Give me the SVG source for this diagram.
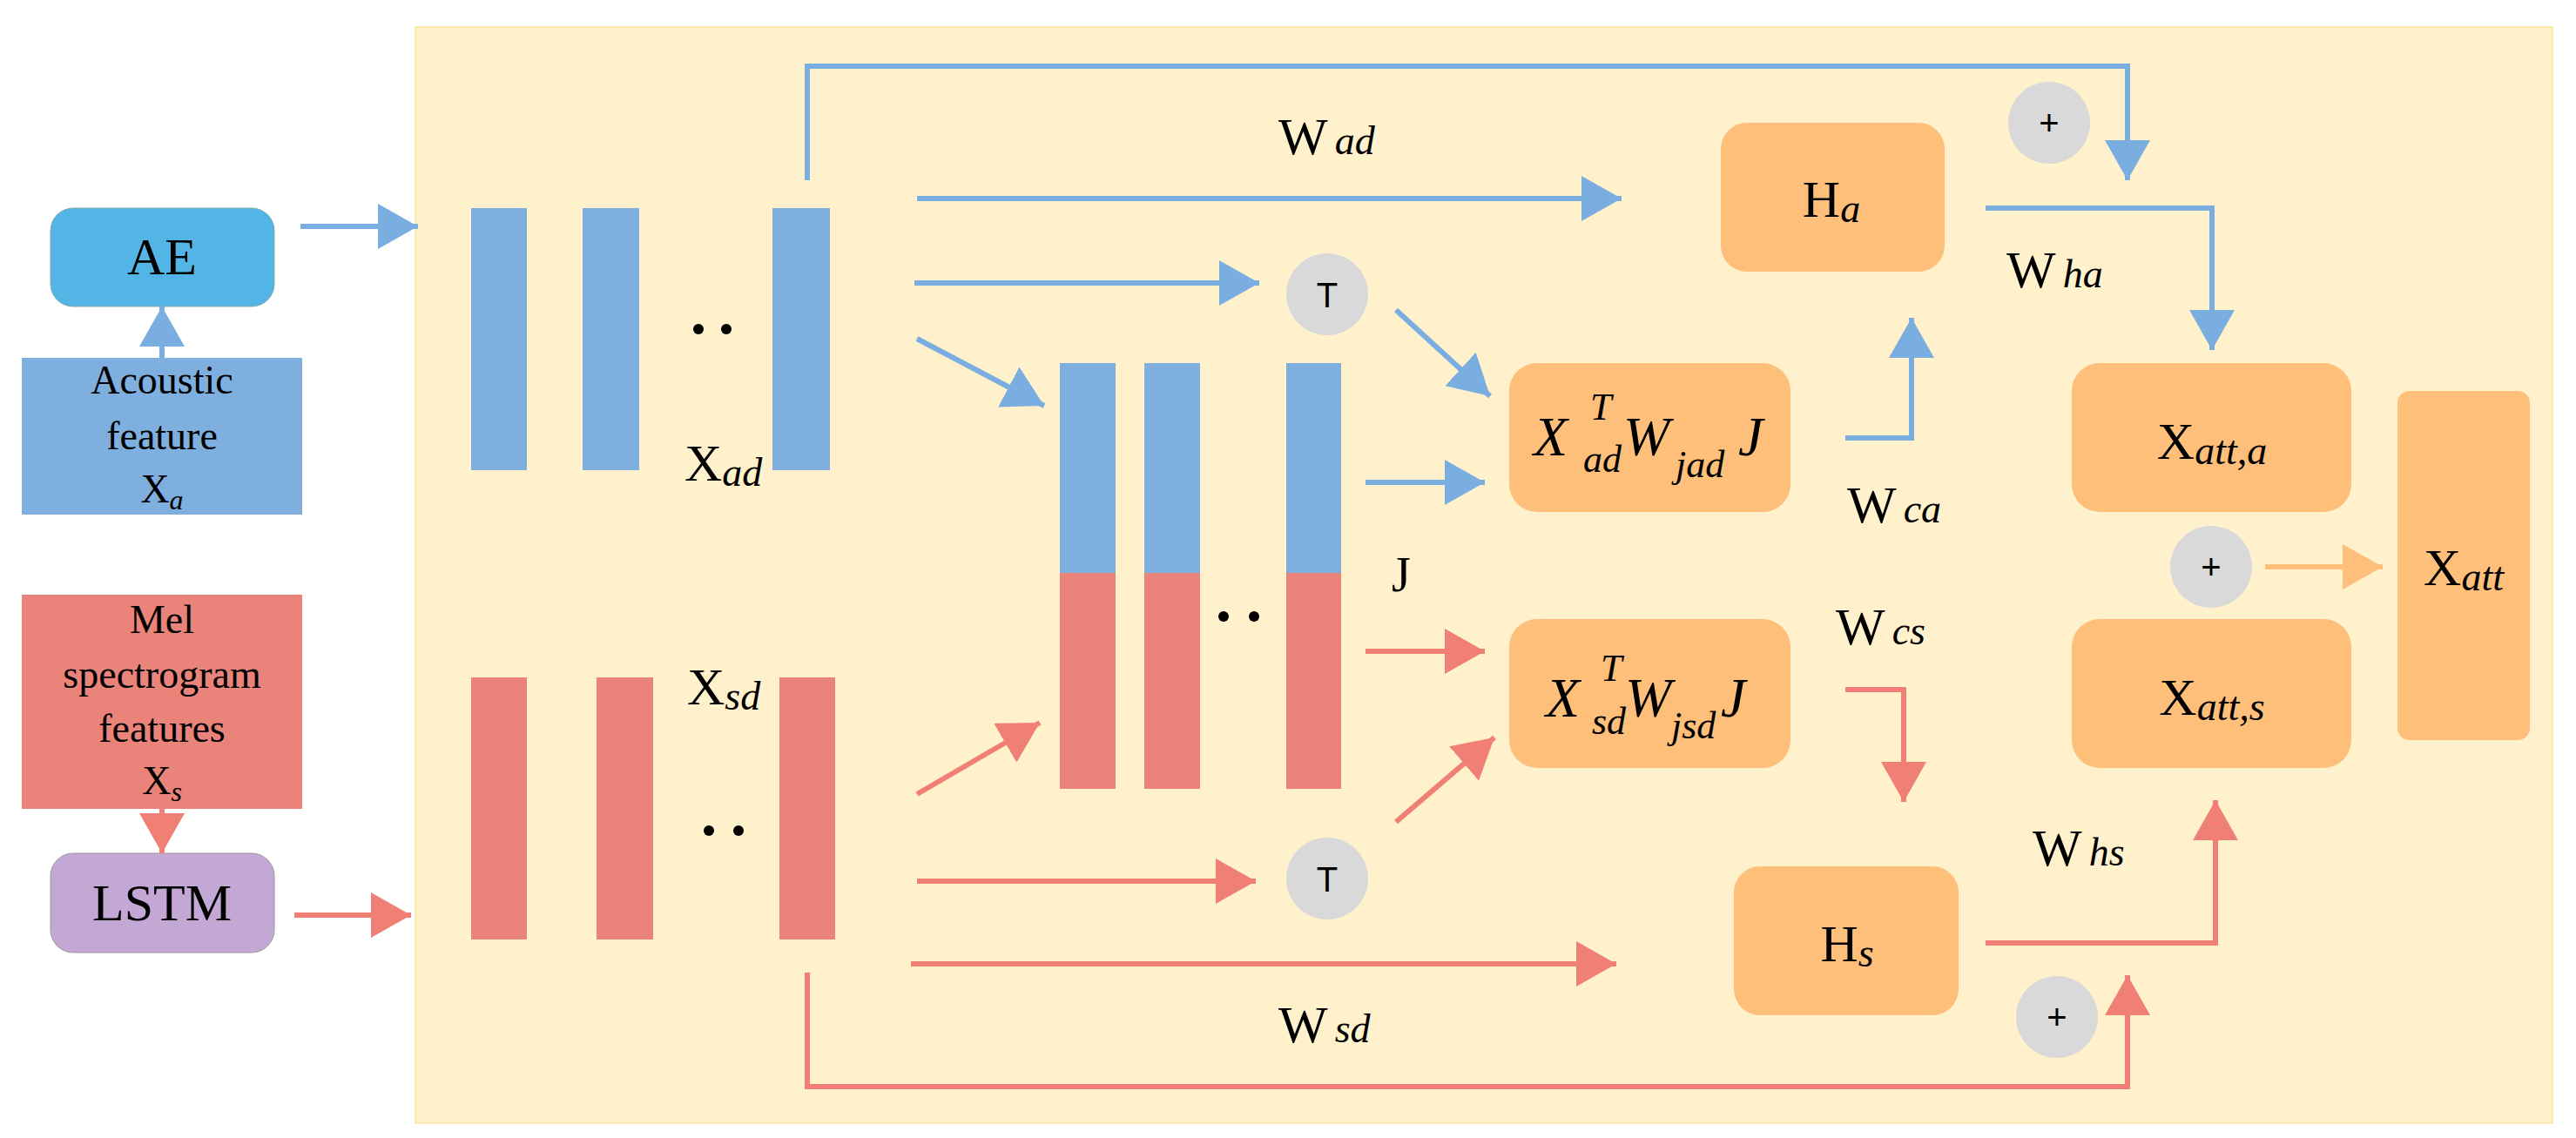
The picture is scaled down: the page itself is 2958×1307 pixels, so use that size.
<svg xmlns="http://www.w3.org/2000/svg" width="2958" height="1307" viewBox="0 0 2958 1307">
<style>
.t{font-family:"Liberation Serif","Times New Roman",serif;fill:#000}
.i{font-style:italic}
.bl{stroke:#7aaee0;stroke-width:6;fill:none}
.rd{stroke:#f08075;stroke-width:6;fill:none}
.or{stroke:#fdbf7a;stroke-width:6;fill:none}
.box{fill:#fdbf7a}
.circ{fill:#d9d9d9}
.ts{font-family:"Liberation Sans",Arial,sans-serif;font-size:40px;fill:#000}
</style>
<defs>
<marker id="ab" markerUnits="userSpaceOnUse" markerWidth="50" markerHeight="52" refX="46" refY="26" orient="auto" viewBox="0 0 50 52"><path d="M0,0 L46,26 L0,52 z" fill="#7aaee0"/></marker>
<marker id="ar" markerUnits="userSpaceOnUse" markerWidth="50" markerHeight="52" refX="46" refY="26" orient="auto" viewBox="0 0 50 52"><path d="M0,0 L46,26 L0,52 z" fill="#f08075"/></marker>
<marker id="ao" markerUnits="userSpaceOnUse" markerWidth="50" markerHeight="52" refX="46" refY="26" orient="auto" viewBox="0 0 50 52"><path d="M0,0 L46,26 L0,52 z" fill="#fdbf7a"/></marker>
</defs>
<rect x="477" y="31" width="2454" height="1259" fill="#fef1cc" stroke="#fbe39a" stroke-width="1.5"/>

<g id="ae"><rect x="58" y="239" width="257" height="113" rx="26" fill="#53b5e6" stroke="#8aa" stroke-width="1"/><text class="t" x="186" y="315" font-size="60" text-anchor="middle">AE</text></g>
<g id="acoustic"><rect x="25" y="411" width="322" height="180" fill="#7eafdf"/>
<text class="t" x="186" y="452" font-size="46" text-anchor="middle">Acoustic</text>
<text class="t" x="186" y="516" font-size="46" text-anchor="middle">feature</text>
<text class="t" x="186" y="577" font-size="46" text-anchor="middle">X<tspan class="i" font-size="32" dy="8">a</tspan></text></g>
<g id="mel"><rect x="25" y="683" width="322" height="246" fill="#ea8379"/>
<text class="t" x="186" y="727" font-size="46" text-anchor="middle">Mel</text>
<text class="t" x="186" y="790" font-size="46" text-anchor="middle">spectrogram</text>
<text class="t" x="186" y="852" font-size="46" text-anchor="middle">features</text>
<text class="t" x="186" y="912" font-size="46" text-anchor="middle">X<tspan class="i" font-size="32" dy="8">s</tspan></text></g>
<g id="lstm"><rect x="58" y="980" width="257" height="114" rx="26" fill="#c3a8d6" stroke="#999" stroke-width="1"/><text class="t" x="186" y="1057" font-size="60" text-anchor="middle">LSTM</text></g>

<g id="xad"><rect x="541" y="239" width="64" height="301" fill="#7eafdf"/><rect x="669" y="239" width="65" height="301" fill="#7eafdf"/><rect x="887" y="239" width="66" height="301" fill="#7eafdf"/>
<circle cx="802" cy="378" r="6"/><circle cx="834" cy="378" r="6"/>
<text class="t" x="786" y="552" font-size="60">X<tspan class="i" font-size="46" dy="6">ad</tspan></text></g>
<g id="xsd"><rect x="541" y="778" width="64" height="301" fill="#ea8379"/><rect x="685" y="778" width="65" height="301" fill="#ea8379"/><rect x="895" y="778" width="64" height="301" fill="#ea8379"/>
<circle cx="814" cy="954" r="6"/><circle cx="848" cy="954" r="6"/>
<text class="t" x="789" y="809" font-size="60">X<tspan class="i" font-size="46" dy="6">sd</tspan></text></g>
<g id="j"><rect x="1217" y="417" width="64" height="241" fill="#7eafdf"/><rect x="1314" y="417" width="64" height="241" fill="#7eafdf"/><rect x="1477" y="417" width="63" height="241" fill="#7eafdf"/>
<rect x="1217" y="658" width="64" height="248" fill="#ea8379"/><rect x="1314" y="658" width="64" height="248" fill="#ea8379"/><rect x="1477" y="658" width="63" height="248" fill="#ea8379"/>
<circle cx="1405" cy="708" r="6"/><circle cx="1440" cy="708" r="6"/>
<text class="t" x="1598" y="679" font-size="56">J</text></g>

<g id="t1"><circle class="circ" cx="1524" cy="338" r="47"/><text class="ts" x="1524" y="353" text-anchor="middle">T</text></g>
<g id="t2"><circle class="circ" cx="1524" cy="1009" r="47"/><text class="ts" x="1524" y="1024" text-anchor="middle">T</text></g>
<g id="p1"><circle class="circ" cx="2353" cy="141" r="47"/><text class="ts" x="2353" y="155" text-anchor="middle">+</text></g>
<g id="p2"><circle class="circ" cx="2539" cy="651" r="47"/><text class="ts" x="2539" y="665" text-anchor="middle">+</text></g>
<g id="p3"><circle class="circ" cx="2362" cy="1168" r="47"/><text class="ts" x="2362" y="1182" text-anchor="middle">+</text></g>

<g id="ha"><rect class="box" x="1976" y="141" width="257" height="171" rx="30"/><text class="t" x="2103" y="249" font-size="60" text-anchor="middle">H<tspan class="i" font-size="46" dy="6">a</tspan></text></g>
<g id="hs"><rect class="box" x="1991" y="995" width="258" height="171" rx="30"/><text class="t" x="2121" y="1104" font-size="60" text-anchor="middle">H<tspan class="i" font-size="46" dy="6">s</tspan></text></g>
<g id="ma"><rect class="box" x="1733" y="417" width="323" height="171" rx="32"/>
<text class="t i" font-size="64"><tspan x="1761" y="523">X</tspan><tspan x="1826" y="482" font-size="44">T</tspan><tspan x="1818" y="542" font-size="44">ad</tspan><tspan x="1864" y="523">W</tspan><tspan x="1924" y="548" font-size="44">jad</tspan><tspan x="1996" y="523">J</tspan></text></g>
<g id="ms"><rect class="box" x="1733" y="711" width="323" height="171" rx="32"/>
<text class="t i" font-size="64"><tspan x="1775" y="823">X</tspan><tspan x="1838" y="782" font-size="44">T</tspan><tspan x="1828" y="843" font-size="44">sd</tspan><tspan x="1866" y="823">W</tspan><tspan x="1919" y="848" font-size="44">jsd</tspan><tspan x="1976" y="823">J</tspan></text></g>
<g id="xatta"><rect class="box" x="2379" y="417" width="321" height="171" rx="32"/><text class="t" x="2540" y="527" font-size="60" text-anchor="middle">X<tspan class="i" font-size="46" dy="6">att,a</tspan></text></g>
<g id="xatts"><rect class="box" x="2379" y="711" width="321" height="171" rx="32"/><text class="t" x="2540" y="821" font-size="60" text-anchor="middle">X<tspan class="i" font-size="46" dy="6">att,s</tspan></text></g>
<g id="xatt"><rect class="box" x="2753" y="449" width="152" height="401" rx="14"/><text class="t" x="2829" y="672" font-size="60" text-anchor="middle">X<tspan class="i" font-size="46" dy="6">att</tspan></text></g>

<g id="labels">
<text class="t" x="1468" y="177" font-size="60">W<tspan class="i" font-size="46" dx="8" dy="0">ad</tspan></text>
<text class="t" x="2304" y="330" font-size="60">W<tspan class="i" font-size="46" dx="8">ha</tspan></text>
<text class="t" x="2121" y="600" font-size="60">W<tspan class="i" font-size="46" dx="8">ca</tspan></text>
<text class="t" x="2108" y="740" font-size="60">W<tspan class="i" font-size="46" dx="8">cs</tspan></text>
<text class="t" x="2334" y="994" font-size="60">W<tspan class="i" font-size="46" dx="8">hs</tspan></text>
<text class="t" x="1468" y="1197" font-size="60">W<tspan class="i" font-size="46" dx="8">sd</tspan></text>
</g>

<g id="connectors">
<line class="bl" x1="186" y1="411" x2="186" y2="352" marker-end="url(#ab)"/>
<line class="rd" x1="186" y1="929" x2="186" y2="980" marker-end="url(#ar)"/>
<line class="bl" x1="345" y1="260" x2="480" y2="260" marker-end="url(#ab)"/>
<line class="rd" x1="338" y1="1051" x2="472" y2="1051" marker-end="url(#ar)"/>
<polyline class="bl" points="927,207 927,76 2443,76 2443,207" marker-end="url(#ab)"/>
<line class="bl" x1="1053" y1="228" x2="1862" y2="228" marker-end="url(#ab)"/>
<line class="bl" x1="1050" y1="325" x2="1446" y2="325" marker-end="url(#ab)"/>
<line class="bl" x1="1053" y1="389" x2="1199" y2="466" marker-end="url(#ab)"/>
<line class="bl" x1="1603" y1="356" x2="1711" y2="455" marker-end="url(#ab)"/>
<line class="bl" x1="1568" y1="554" x2="1705" y2="554" marker-end="url(#ab)"/>
<polyline class="bl" points="2119,503 2195,503 2195,365" marker-end="url(#ab)"/>
<polyline class="bl" points="2280,239 2540,239 2540,402" marker-end="url(#ab)"/>
<line class="rd" x1="1053" y1="912" x2="1194" y2="830" marker-end="url(#ar)"/>
<line class="rd" x1="1053" y1="1012" x2="1442" y2="1012" marker-end="url(#ar)"/>
<line class="rd" x1="1046" y1="1107" x2="1856" y2="1107" marker-end="url(#ar)"/>
<polyline class="rd" points="927,1117 927,1248 2443,1248 2443,1120" marker-end="url(#ar)"/>
<line class="rd" x1="1603" y1="944" x2="1716" y2="847" marker-end="url(#ar)"/>
<line class="rd" x1="1568" y1="748" x2="1705" y2="748" marker-end="url(#ar)"/>
<polyline class="rd" points="2119,792 2186,792 2186,921" marker-end="url(#ar)"/>
<polyline class="rd" points="2280,1083 2544,1083 2544,919" marker-end="url(#ar)"/>
<line class="or" x1="2601" y1="651" x2="2736" y2="651" marker-end="url(#ao)"/>
</g>
</svg>
